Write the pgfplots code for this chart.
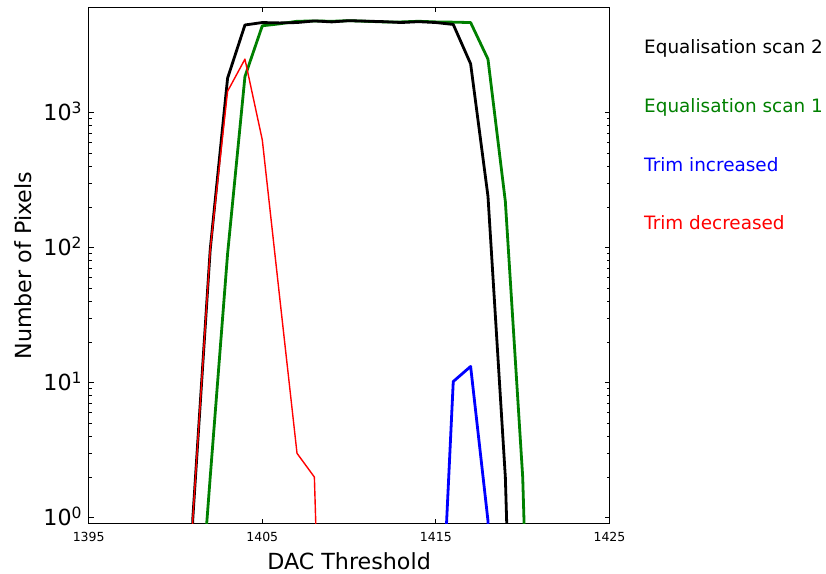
\documentclass[border=0pt]{standalone}
\usepackage{fontspec}
\setmainfont{DejaVu Sans}
\usepackage{pgfplots}
\pgfplotsset{compat=1.18}
\definecolor{mplgreen}{HTML}{008000}
\begin{document}
\begin{tikzpicture}
\useasboundingbox (0,0) rectangle (826bp,574bp);
\begin{axis}[
  at={(88.7bp,50.1bp)}, anchor=south west,
  scale only axis, width=520.8bp, height=516.3bp,
  xmin=1395, xmax=1425, ymode=log, ymin=0.9, ymax=6000,
  xtick={1395,1405,1415,1425},
  xticklabels={1395,1405,1415,1425},
  ytick={1,10,100,1000},
  yticklabels={10\textsuperscript{0},10\textsuperscript{1},10\textsuperscript{2},10\textsuperscript{3}},
  tick align=inside, tick pos=both,
  major tick length=4.9bp, minor tick length=2.8bp,
  tick style={black, line width=1.1bp},
  minor tick style={line width=0.8bp},
  axis line style={black, line width=1.1bp},
  xticklabel style={font=\fontsize{12.5bp}{15bp}\selectfont, anchor=base, inner sep=0pt, yshift=-18bp},
  yticklabel style={font=\fontsize{22.2bp}{26bp}\selectfont, anchor=base east, inner sep=0pt, xshift=-6.4bp, yshift=-8.1bp},
  xlabel={DAC Threshold}, ylabel={Number of Pixels},
  xlabel style={font=\fontsize{22.2bp}{26bp}\selectfont, at={(axis description cs:0.5,-0.089)}, anchor=base, inner sep=0pt},
  ylabel style={font=\fontsize{22.2bp}{26bp}\selectfont, at={(axis description cs:-0.11,0.5)}, anchor=base, inner sep=0pt},
  clip=true,
]
% Equalisation scan 1
\addplot[mplgreen, line width=2.8bp, mark=none, line join=round] coordinates {
(1401,0.04) (1402,2) (1403,90) (1404,1850) (1405,4400) (1406,4550) (1407,4750)
(1408,4780) (1409,4750) (1410,4800) (1411,4750) (1412,4700) (1413,4700)
(1414,4750) (1415,4700) (1416,4680) (1417,4650) (1418,2490) (1419,220)
(1420,2) (1421,0.0001)
};
% Equalisation scan 2
\addplot[black, line width=2.8bp, mark=none, line join=round] coordinates {
(1400,0.0001) (1401,1) (1402,97) (1403,1800) (1404,4460) (1405,4650) (1406,4620)
(1407,4650) (1408,4780) (1409,4700) (1410,4800) (1411,4760) (1412,4720)
(1413,4650) (1414,4720) (1415,4650) (1416,4500) (1417,2300) (1418,240)
(1419,2) (1420,0.0001)
};
% Trim increased
\addplot[blue, line width=2.8bp, mark=none, line join=round] coordinates {
(1415,0.02) (1416,10.2) (1417,13.2) (1418,0.95) (1419,0.0001)
};
% Trim decreased
\addplot[red, line width=1.4bp, mark=none, line join=round] coordinates {
(1400,0.0001) (1401,1) (1402,97) (1403,1440) (1404,2490) (1405,628)
(1406,43) (1407,3) (1408,2) (1409,0.0001)
};
\end{axis}
\node[anchor=base west, inner sep=0pt, font=\fontsize{18.4bp}{22bp}\selectfont, text=black] at (644bp,520.7bp) {Equalisation scan 2};
\node[anchor=base west, inner sep=0pt, font=\fontsize{18.4bp}{22bp}\selectfont, text=mplgreen] at (644bp,461.7bp) {Equalisation scan 1};
\node[anchor=base west, inner sep=0pt, font=\fontsize{18.4bp}{22bp}\selectfont, text=blue] at (644bp,402.3bp) {Trim increased};
\node[anchor=base west, inner sep=0pt, font=\fontsize{18.4bp}{22bp}\selectfont, text=red] at (644bp,344bp) {Trim decreased};
\end{tikzpicture}
\end{document}
